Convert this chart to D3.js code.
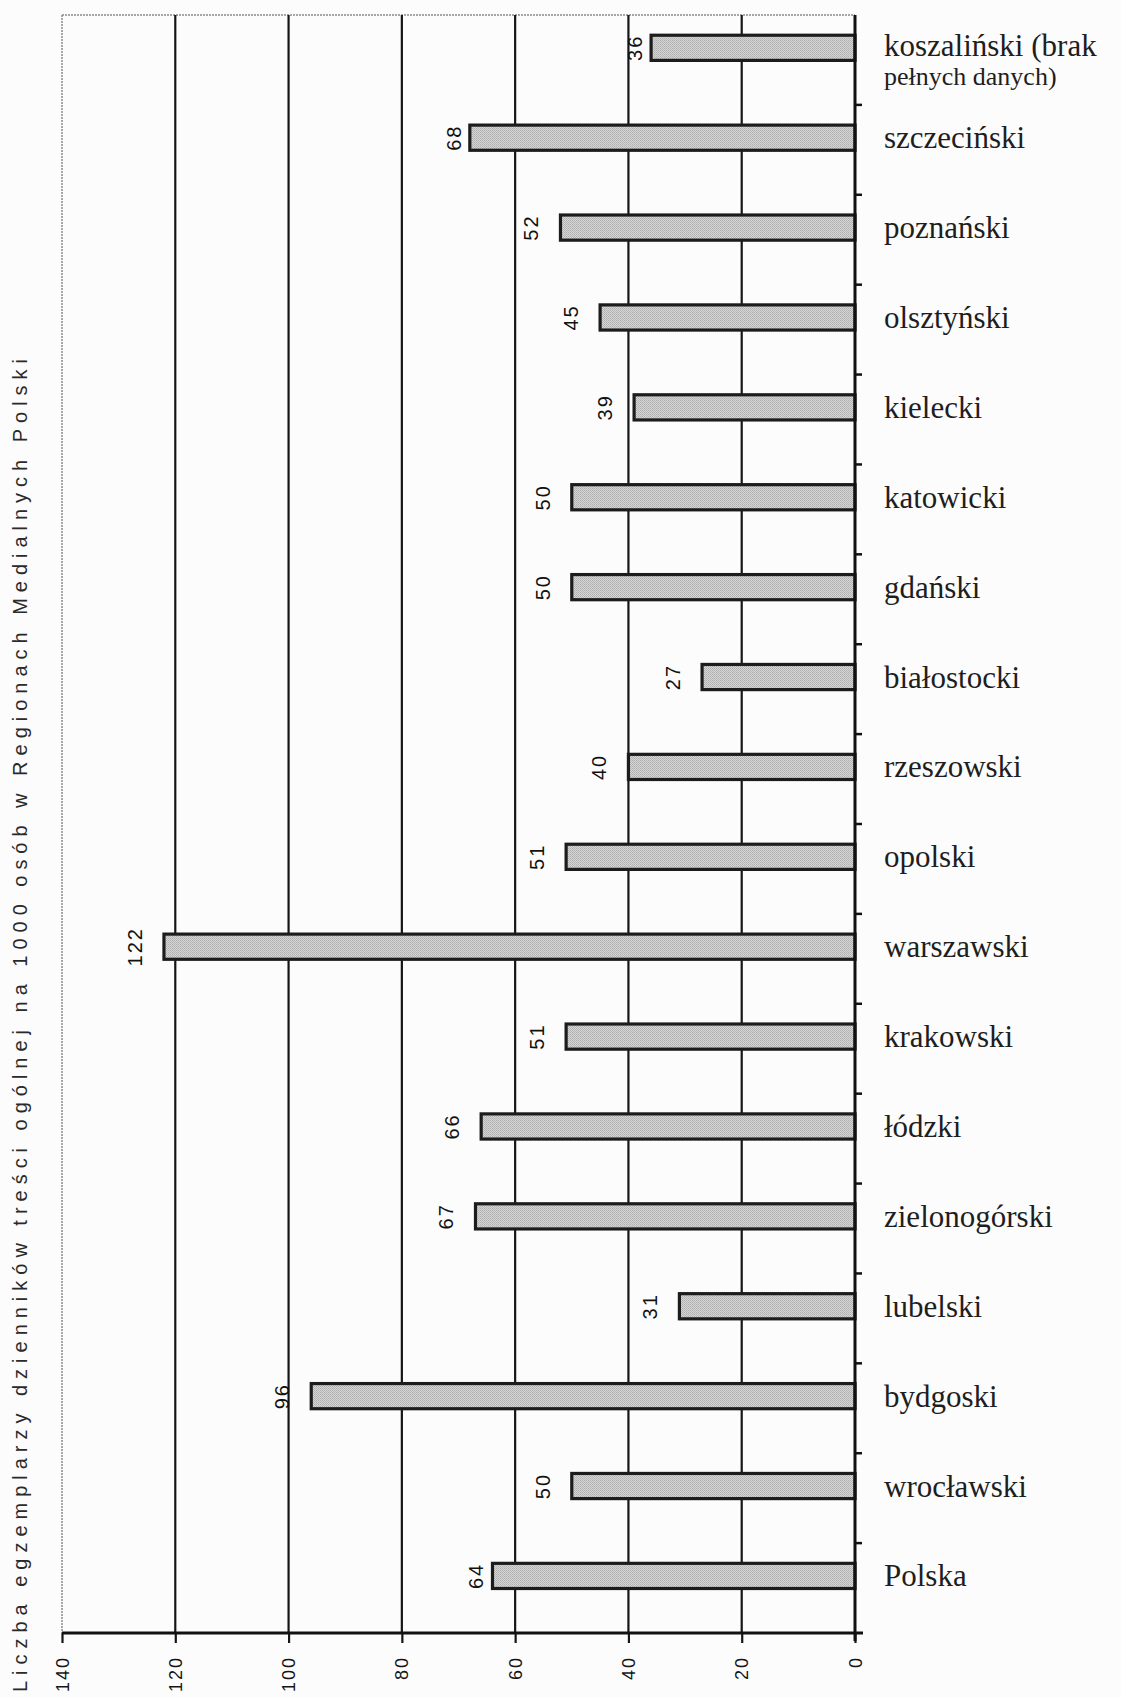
<!DOCTYPE html>
<html lang="pl">
<head>
<meta charset="utf-8">
<script src="https://cdn.jsdelivr.net/npm/d3@7"></script>
<style>
  html, body { margin: 0; padding: 0; background: #fcfcfc; }
  svg { display: block; }
</style>
</head>
<body>
<svg id="chart" width="1121" height="1697"></svg>
<script>
// Regions, top to bottom as drawn
const categories = [
  "koszaliński (brak pełnych danych)", "szczeciński", "poznański", "olsztyński",
  "kielecki", "katowicki", "gdański", "białostocki", "rzeszowski", "opolski",
  "warszawski", "krakowski", "łódzki", "zielonogórski", "lubelski", "bydgoski",
  "wrocławski", "Polska"
];
// Copies of general-content dailies per 1000 inhabitants
const values = [36, 68, 52, 45, 39, 50, 50, 27, 40, 51, 122, 51, 66, 67, 31, 96, 50, 64];
const tickValues = [0, 20, 40, 60, 80, 100, 120, 140];
const tickLabels = ["0", "20", "40", "60", "80", "100", "120", "140"];
const axisTitle = "Liczba egzemplarzy dzienników treści ogólnej na 1000 osób w Regionach Medialnych Polski";

const svg = d3.select("#chart");
const plotLeft = 62, plotRight = 855, plotTop = 15, plotBottom = 1633;

const x = d3.scaleLinear().domain([0, 140]).range([plotRight, plotLeft]);
const y = d3.scaleBand().domain(categories).range([plotTop, plotBottom]).padding(0);
const bw = y.bandwidth();

// dithered grey fill for the bars
const defs = svg.append("defs");
const pat = defs.append("pattern").attr("id", "dither")
  .attr("width", 2).attr("height", 2).attr("patternUnits", "userSpaceOnUse");
pat.append("rect").attr("width", 2).attr("height", 2).attr("fill", "#d6d6d6");
pat.append("rect").attr("width", 1).attr("height", 1).attr("fill", "#aeaeae");
pat.append("rect").attr("x", 1).attr("y", 1).attr("width", 1).attr("height", 1).attr("fill", "#b8b8b8");

// plot frame (light) on top and at the 140 side
svg.append("line").attr("x1", plotLeft).attr("x2", plotRight).attr("y1", plotTop).attr("y2", plotTop)
  .attr("stroke", "#8a8a8a").attr("stroke-width", 1.5).attr("stroke-dasharray", "2,1");
svg.append("line").attr("x1", plotLeft).attr("x2", plotLeft).attr("y1", plotTop).attr("y2", plotBottom)
  .attr("stroke", "#8a8a8a").attr("stroke-width", 1.5).attr("stroke-dasharray", "2,1");

// vertical gridlines
svg.append("g").selectAll("line")
  .data(tickValues.filter(v => v > 0 && v < 140))
  .join("line")
  .attr("x1", d => x(d)).attr("x2", d => x(d))
  .attr("y1", plotTop).attr("y2", plotBottom)
  .attr("stroke", "#151515").attr("stroke-width", 2.2);

// value axis along the bottom
const xAxis = svg.append("g")
  .attr("transform", `translate(0,${plotBottom})`)
  .call(d3.axisBottom(x).tickValues(tickValues).tickSize(10)
    .tickFormat(d => tickLabels[tickValues.indexOf(d)]));
xAxis.select(".domain").remove();
xAxis.selectAll(".tick line").attr("stroke", "#151515").attr("stroke-width", 2.2);
xAxis.selectAll(".tick text")
  .attr("x", 0).attr("y", 0).attr("dy", null)
  .attr("transform", "translate(0,23) rotate(-90)")
  .attr("text-anchor", "end")
  .attr("dominant-baseline", "central")
  .attr("font-family", "'Liberation Sans', Arial, sans-serif")
  .attr("font-size", 18)
  .attr("letter-spacing", 2)
  .attr("fill", "#151515");
svg.append("line").attr("x1", plotLeft).attr("x2", plotRight + 8).attr("y1", plotBottom).attr("y2", plotBottom)
  .attr("stroke", "#111").attr("stroke-width", 3);

// bars
const barTop = bw * 0.225, barH = bw * 0.28;
svg.append("g").selectAll("rect")
  .data(values)
  .join("rect")
  .attr("x", d => x(d))
  .attr("y", (d, i) => y(categories[i]) + barTop)
  .attr("width", d => x(0) - x(d))
  .attr("height", barH)
  .attr("fill", "url(#dither)")
  .attr("stroke", "#1c1c1c")
  .attr("stroke-width", 3.2);

// category axis on the right
svg.append("line").attr("x1", plotRight).attr("x2", plotRight).attr("y1", plotTop).attr("y2", plotBottom + 8)
  .attr("stroke", "#111").attr("stroke-width", 3);
svg.append("g").selectAll("line")
  .data(categories.slice(1))
  .join("line")
  .attr("x1", plotRight).attr("x2", plotRight + 7)
  .attr("y1", d => y(d)).attr("y2", d => y(d))
  .attr("stroke", "#111").attr("stroke-width", 2.5);

// value labels beside bar ends; a few sit tight against their bar
const tightLabels = new Set(["koszaliński (brak pełnych danych)", "szczeciński", "Polska"]);
svg.append("g").selectAll("text")
  .data(values)
  .join("text")
  .attr("transform", (d, i) => {
    const gap = tightLabels.has(categories[i]) ? 9 : 22;
    return `translate(${x(d) - gap},${y(categories[i]) + barTop + barH / 2}) rotate(-90)`;
  })
  .attr("text-anchor", "middle")
  .attr("font-family", "'Liberation Sans', Arial, sans-serif")
  .attr("font-size", 20)
  .attr("letter-spacing", 2)
  .attr("fill", "#111")
  .text(d => d);

// region names, wrapped when too wide
const labelX = 884, maxW = 232, lineH = 29;
const labels = svg.append("g")
  .attr("font-family", "'Liberation Serif', 'Times New Roman', serif")
  .attr("font-size", 31)
  .attr("fill", "#1e1e1e");
categories.forEach((c, i) => {
  const cy = y(c) + barTop + barH / 2;
  const t = labels.append("text").attr("x", labelX);
  const words = c.split(" ");
  const lines = [];
  let cur = [];
  const probe = t.append("tspan");
  words.forEach(w => {
    probe.text(cur.concat(w).join(" "));
    if (cur.length && probe.node().getComputedTextLength() > maxW) {
      lines.push(cur.join(" "));
      cur = [w];
    } else {
      cur.push(w);
    }
  });
  lines.push(cur.join(" "));
  probe.remove();
  const first = lines.length > 1 ? cy + 8 : cy + 10.5;
  lines.forEach((ln, k) => {
    t.append("tspan").attr("x", labelX).attr("y", first + k * lineH)
      .attr("font-size", k > 0 ? 26 : null)
      .text(ln);
  });
});

// value axis title
svg.append("text")
  .attr("transform", "translate(27,1692) rotate(-90)")
  .attr("text-anchor", "start")
  .attr("font-family", "'Liberation Sans', Arial, sans-serif")
  .attr("font-size", 20)
  .attr("fill", "#2a2a2a")
  .attr("textLength", 1333)
  .attr("lengthAdjust", "spacing")
  .text(axisTitle);
</script>
</body>
</html>
